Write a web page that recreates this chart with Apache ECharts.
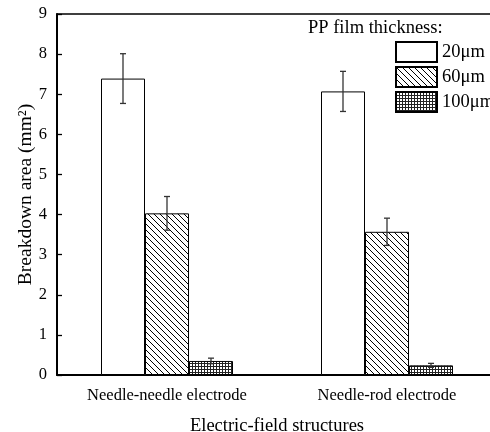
<!DOCTYPE html>
<html>
<head>
<meta charset="utf-8">
<script src="https://cdn.jsdelivr.net/npm/echarts@6/dist/echarts.min.js"></script>
<style>html,body{margin:0;padding:0;background:#fff}#c{width:490px;height:432px}</style>
</head>
<body>
<div id="c"></div>
<script>
const categories = ['Needle-needle electrode', 'Needle-rod electrode'];
const seriesNames = ['20\u03bcm', '60\u03bcm', '100\u03bcm'];
const values20 = [7.39, 7.07];
const values60 = [4.03, 3.57];
const values100 = [0.35, 0.24];
const err20 = [0.62, 0.50];
const err60 = [0.42, 0.34];
const err100 = [0.07, 0.05];
const yTicks = [0, 1, 2, 3, 4, 5, 6, 7, 8, 9];

const FONT = '"Liberation Serif", "DejaVu Serif", serif';

function diagPattern() {
  const c = document.createElement('canvas');
  c.width = 6; c.height = 6;
  const g = c.getContext('2d');
  g.fillStyle = '#fff'; g.fillRect(0, 0, 6, 6);
  g.strokeStyle = '#000'; g.lineWidth = 1;
  g.beginPath();
  g.moveTo(-1, -1); g.lineTo(7, 7);
  g.moveTo(-1, 5); g.lineTo(1, 7);
  g.moveTo(5, -1); g.lineTo(7, 1);
  g.stroke();
  return c;
}
function gridPattern() {
  const c = document.createElement('canvas');
  c.width = 3; c.height = 3;
  const g = c.getContext('2d');
  g.fillStyle = '#fff'; g.fillRect(0, 0, 3, 3);
  g.fillStyle = '#222';
  g.fillRect(0, 0, 3, 1);
  g.fillRect(0, 0, 1, 3);
  return c;
}
const fills = ['#ffffff', {image: diagPattern(), repeat: 'repeat'}, {image: gridPattern(), repeat: 'repeat'}];
const vals = [values20, values60, values100];
const errs = [err20, err60, err100];

const chart = echarts.init(document.getElementById('c'), null, {renderer: 'canvas'});

const series = [];
seriesNames.forEach((n, i) => {
  series.push({
    name: n, type: 'bar', data: vals[i],
    barGap: '0%', barCategoryGap: '40%',
    itemStyle: {color: fills[i], borderColor: '#000', borderWidth: 1},
    emphasis: {disabled: true}
  });
});
seriesNames.forEach((n, i) => {
  series.push({
    type: 'custom',
    name: n + '_err',
    data: categories.map((c, k) => [k, vals[i][k] - errs[i][k], vals[i][k] + errs[i][k]]),
    z: 10,
    renderItem: function (params, api) {
      const band = api.size([1, 0])[0];
      const bw = band * 0.2;
      const off = (i - 1) * bw;
      const lo = api.coord([api.value(0), api.value(1)]);
      const hi = api.coord([api.value(0), api.value(2)]);
      const x = lo[0] + off;
      const cap = 3;
      const st = {stroke: '#333', lineWidth: 1.3};
      return {
        type: 'group',
        children: [
          {type: 'line', shape: {x1: x, y1: lo[1], x2: x, y2: hi[1]}, style: st},
          {type: 'line', shape: {x1: x - cap, y1: lo[1], x2: x + cap, y2: lo[1]}, style: st},
          {type: 'line', shape: {x1: x - cap, y1: hi[1], x2: x + cap, y2: hi[1]}, style: st}
        ]
      };
    }
  });
});

chart.setOption({
  animation: false,
  backgroundColor: '#fff',
  title: {
    text: 'PP film thickness:', left: 308, top: 19, padding: 0,
    textStyle: {fontFamily: FONT, fontSize: 18.5, fontWeight: 'normal', color: '#000'}
  },
  legend: {
    data: seriesNames, orient: 'vertical', left: 395, top: 41, padding: 0,
    itemWidth: 41, itemHeight: 20, itemGap: 3, icon: 'rect',
    textStyle: {fontFamily: FONT, fontSize: 18.5, color: '#000', lineHeight: 20},
    selectedMode: false
  },
  grid: {left: 57, top: 14, width: 440, height: 361, containLabel: false, outerBoundsMode: 'none'},
  xAxis: [{
    type: 'category', data: categories,
    name: 'Electric-field structures', nameLocation: 'middle', nameGap: 42, nameMoveOverlap: false,
    nameTextStyle: {fontFamily: FONT, fontSize: 18.5, color: '#000'},
    axisLine: {lineStyle: {color: '#000', width: 2}},
    axisTick: {alignWithLabel: true, length: 5, lineStyle: {color: '#000', width: 1.3}},
    axisLabel: {fontFamily: FONT, fontSize: 16.5, color: '#000', margin: 12}
  }, {
    type: 'category', data: categories, position: 'top',
    axisLine: {lineStyle: {color: '#000', width: 1.5}},
    axisTick: {show: false}, axisLabel: {show: false}
  }],
  yAxis: {
    type: 'value', min: yTicks[0], max: yTicks[yTicks.length - 1], interval: 1,
    name: 'Breakdown area (mm\u00b2)', nameLocation: 'middle', nameGap: 21, nameMoveOverlap: false,
    nameTextStyle: {fontFamily: FONT, fontSize: 19.5, color: '#000'},
    axisLine: {show: true, lineStyle: {color: '#000', width: 2}},
    axisTick: {show: true, inside: true, length: 5, lineStyle: {color: '#000', width: 1.3}},
    axisLabel: {fontFamily: FONT, fontSize: 16.5, color: '#000', margin: 10},
    splitLine: {show: false}
  },
  series: series
});
</script>
</body>
</html>
